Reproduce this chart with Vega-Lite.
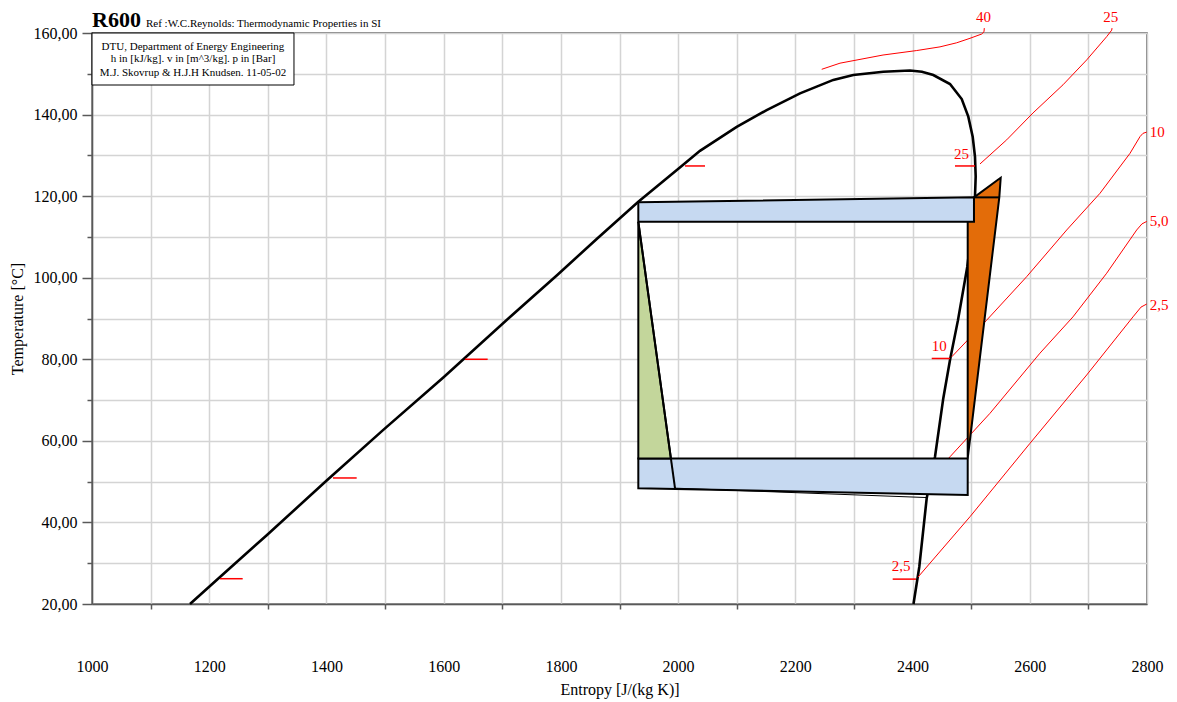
{
  "$schema": "https://vega.github.io/schema/vega-lite/v6.json",
  "width": 1055,
  "height": 571,
  "autosize": "none",
  "padding": {"left": 92, "top": 33, "right": 30, "bottom": 98},
  "background": "white",
  "config": {
    "font": "Liberation Serif",
    "view": {"stroke": "#595959", "strokeWidth": 1.5},
    "axis": {
      "labelFont": "Liberation Serif",
      "labelColor": "black",
      "labelFontSize": 16,
      "labelFlush": false,
      "labelOverlap": false,
      "titleFont": "Liberation Serif",
      "titleFontSize": 16,
      "titleFontWeight": "normal",
      "titleColor": "black",
      "domainColor": "#595959",
      "domainWidth": 1.5,
      "tickColor": "#595959",
      "tickWidth": 1.5,
      "grid": true,
      "gridColor": "#d4d4d4",
      "gridWidth": 1.5
    }
  },
  "datasets": {
    "saturation": [
      {"i": 1, "s": 1167.2, "T": 20.0},
      {"i": 2, "s": 1218.4, "T": 26.6},
      {"i": 3, "s": 1298.1, "T": 36.87},
      {"i": 4, "s": 1400.4, "T": 50.26},
      {"i": 5, "s": 1497.0, "T": 62.7},
      {"i": 6, "s": 1599.4, "T": 75.54},
      {"i": 7, "s": 1713.2, "T": 90.37},
      {"i": 8, "s": 1792.9, "T": 100.54},
      {"i": 9, "s": 1861.1, "T": 109.5},
      {"i": 10, "s": 1932.1, "T": 118.6},
      {"i": 11, "s": 2006.1, "T": 127.4},
      {"i": 12, "s": 2037.3, "T": 131.1},
      {"i": 13, "s": 2100.0, "T": 137.0},
      {"i": 14, "s": 2151.1, "T": 141.1},
      {"i": 15, "s": 2208.0, "T": 145.2},
      {"i": 16, "s": 2264.8, "T": 148.5},
      {"i": 17, "s": 2298.9, "T": 149.7},
      {"i": 18, "s": 2350.1, "T": 150.5},
      {"i": 19, "s": 2395.6, "T": 150.8},
      {"i": 20, "s": 2416.0, "T": 150.5},
      {"i": 21, "s": 2435.4, "T": 149.7},
      {"i": 22, "s": 2463.9, "T": 147.5},
      {"i": 23, "s": 2483.9, "T": 143.8},
      {"i": 24, "s": 2495.1, "T": 139.5},
      {"i": 25, "s": 2502.6, "T": 134.6},
      {"i": 26, "s": 2506.5, "T": 129.7},
      {"i": 27, "s": 2507.7, "T": 124.8},
      {"i": 28, "s": 2506.5, "T": 119.8},
      {"i": 29, "s": 2504.8, "T": 113.9},
      {"i": 30, "s": 2498.9, "T": 109.2},
      {"i": 31, "s": 2493.4, "T": 102.7},
      {"i": 32, "s": 2477.5, "T": 89.6},
      {"i": 33, "s": 2463.9, "T": 79.8},
      {"i": 34, "s": 2452.4, "T": 70.4},
      {"i": 35, "s": 2438.3, "T": 56.1},
      {"i": 36, "s": 2424.1, "T": 45.9},
      {"i": 37, "s": 2411.5, "T": 29.1},
      {"i": 38, "s": 2401.6, "T": 20.0}
    ],
    "isobars": [
      {"p": "40", "i": 1, "s": 2245.0, "T": 151.1},
      {"p": "40", "i": 2, "s": 2276.2, "T": 152.6},
      {"p": "40", "i": 3, "s": 2349.6, "T": 154.6},
      {"p": "40", "i": 4, "s": 2407.1, "T": 155.7},
      {"p": "40", "i": 5, "s": 2446.8, "T": 156.6},
      {"p": "40", "i": 6, "s": 2475.3, "T": 157.6},
      {"p": "40", "i": 7, "s": 2498.0, "T": 158.7},
      {"p": "40", "i": 8, "s": 2518.0, "T": 159.75},
      {"p": "40", "i": 9, "s": 2521.9, "T": 160.3},
      {"p": "40", "i": 10, "s": 2522.4, "T": 161.2},
      {"p": "25", "i": 1, "s": 2515.1, "T": 127.9},
      {"p": "25", "i": 2, "s": 2560.6, "T": 133.8},
      {"p": "25", "i": 3, "s": 2605.5, "T": 140.4},
      {"p": "25", "i": 4, "s": 2656.7, "T": 147.3},
      {"p": "25", "i": 5, "s": 2697.1, "T": 153.4},
      {"p": "25", "i": 6, "s": 2731.2, "T": 159.1},
      {"p": "25", "i": 7, "s": 2739.8, "T": 160.7},
      {"p": "25", "i": 8, "s": 2740.3, "T": 161.2},
      {"p": "10", "i": 1, "s": 2466.8, "T": 80.6},
      {"p": "10", "i": 2, "s": 2526.5, "T": 89.6},
      {"p": "10", "i": 3, "s": 2594.7, "T": 100.25},
      {"p": "10", "i": 4, "s": 2663.0, "T": 111.7},
      {"p": "10", "i": 5, "s": 2719.8, "T": 120.7},
      {"p": "10", "i": 6, "s": 2771.0, "T": 130.5},
      {"p": "10", "i": 7, "s": 2788.1, "T": 134.6},
      {"p": "10", "i": 8, "s": 2793.2, "T": 135.4},
      {"p": "10", "i": 9, "s": 2799.5, "T": 135.7},
      {"p": "5,0", "i": 1, "s": 2431.5, "T": 50.9},
      {"p": "5,0", "i": 2, "s": 2463.9, "T": 56.1},
      {"p": "5,0", "i": 3, "s": 2532.1, "T": 66.75},
      {"p": "5,0", "i": 4, "s": 2617.4, "T": 81.5},
      {"p": "5,0", "i": 5, "s": 2673.7, "T": 90.4},
      {"p": "5,0", "i": 6, "s": 2731.2, "T": 101.1},
      {"p": "5,0", "i": 7, "s": 2782.4, "T": 111.7},
      {"p": "5,0", "i": 8, "s": 2791.4, "T": 113.2},
      {"p": "5,0", "i": 9, "s": 2799.5, "T": 113.8},
      {"p": "2,5", "i": 1, "s": 2409.3, "T": 26.6},
      {"p": "2,5", "i": 2, "s": 2498.0, "T": 41.4},
      {"p": "2,5", "i": 3, "s": 2600.4, "T": 59.4},
      {"p": "2,5", "i": 4, "s": 2697.1, "T": 76.15},
      {"p": "2,5", "i": 5, "s": 2776.1, "T": 90.4},
      {"p": "2,5", "i": 6, "s": 2789.8, "T": 92.8},
      {"p": "2,5", "i": 7, "s": 2799.5, "T": 93.55}
    ],
    "dashes": [
      {"s": 1218.4, "s2": 1257.1, "T": 26.2},
      {"s": 1411.2, "s2": 1451.6, "T": 50.9},
      {"s": 1636.4, "s2": 1675.1, "T": 80.0},
      {"s": 2011.8, "s2": 2045.9, "T": 127.4},
      {"s": 2366.1, "s2": 2405.9, "T": 26.1},
      {"s": 2432.7, "s2": 2463.9, "T": 80.2},
      {"s": 2472.4, "s2": 2506.5, "T": 127.4}
    ],
    "pressureLabels": [
      {"s": 2508.2, "T": 163.85, "t": "40"},
      {"s": 2725.4, "T": 163.85, "t": "25"},
      {"s": 2804.9, "T": 135.7, "t": "10"},
      {"s": 2804.9, "T": 113.9, "t": "5,0"},
      {"s": 2804.9, "T": 93.2, "t": "2,5"},
      {"s": 2470.7, "T": 130.3, "t": "25"},
      {"s": 2432.7, "T": 83.2, "t": "10"},
      {"s": 2364.4, "T": 29.4, "t": "2,5"}
    ],
    "superheat": [
      {"s": 2494.1, "T": 113.7, "T2": 55.7},
      {"s": 2504.8, "T": 119.7, "T2": 68.4},
      {"s": 2548.0, "T": 124.25, "T2": 119.7},
      {"s": 2550.4, "T": 124.5, "T2": 124.5}
    ],
    "exchangers": [
      {"part": "evaporator", "s": 1932.1, "T": 118.5, "T2": 113.7},
      {"part": "evaporator", "s": 2504.8, "T": 119.7, "T2": 113.7},
      {"part": "condenser", "s": 1932.1, "T": 55.7, "T2": 48.4},
      {"part": "condenser", "s": 2494.1, "T": 55.7, "T2": 46.7}
    ],
    "preheat": [
      {"s": 1932.1, "T": 113.7, "T2": 55.7},
      {"s": 1987.7, "T": 55.7, "T2": 55.7}
    ],
    "cycleLines": [
      {"id": "a", "i": 1, "s": 1932.1, "T": 113.7},
      {"id": "a", "i": 2, "s": 1994.7, "T": 48.4},
      {"id": "b", "i": 1, "s": 2504.8, "T": 119.7},
      {"id": "b", "i": 2, "s": 2548.0, "T": 119.7}
    ],
    "dewLine": [
      {"i": 1, "s": 1994.7, "T": 48.4},
      {"i": 2, "s": 2424.1, "T": 46.1}
    ],
    "infoBox": [
      {"s": 1000, "s2": 1344.6, "T": 160, "T2": 147.25}
    ],
    "infoText": [
      {"s": 1172.3, "T": 155.95, "t": "DTU, Department of Energy Engineering"},
      {"s": 1172.3, "T": 152.77, "t": "h in [kJ/kg]. v in [m^3/kg]. p in [Bar]"},
      {"s": 1172.3, "T": 149.46, "t": "M.J. Skovrup & H.J.H Knudsen. 11-05-02"}
    ],
    "heading": [
      {"s": 1000, "T": 161.55, "t": "R600"}
    ],
    "reference": [
      {"s": 1092.1, "T": 161.55, "t": "Ref :W.C.Reynolds: Thermodynamic Properties in SI"}
    ]
  },
  "encoding": {
    "x": {
      "field": "s",
      "type": "quantitative",
      "scale": {"domain": [1000, 2800], "nice": false, "zero": false},
      "axis": {
        "title": "Entropy [J/(kg K)]",
        "values": [1000, 1100, 1200, 1300, 1400, 1500, 1600, 1700, 1800, 1900, 2000, 2100, 2200, 2300, 2400, 2500, 2600, 2700, 2800],
        "format": "d",
        "labelExpr": "datum.value % 200 == 0 ? datum.label : ''",
        "tickSize": 5,
        "tickOpacity": {"condition": {"test": "datum.value % 200 == 0", "value": 0}, "value": 1},
        "labelPadding": 49,
        "titlePadding": 7
      }
    },
    "y": {
      "field": "T",
      "type": "quantitative",
      "scale": {"domain": [20, 160], "nice": false, "zero": false},
      "axis": {
        "title": "Temperature [°C]",
        "values": [20, 30, 40, 50, 60, 70, 80, 90, 100, 110, 120, 130, 140, 150, 160],
        "labelExpr": "datum.value % 20 == 0 ? replace(format(datum.value, '.2f'), '.', ',') : ''",
        "tickSize": 10,
        "tickDash": {"condition": {"test": "datum.value % 20 != 0", "value": [5, 5]}, "value": []},
        "labelPadding": 5,
        "titlePadding": 8
      }
    }
  },
  "layer": [
    {
      "data": {"name": "saturation"},
      "mark": {"type": "line", "color": "black", "strokeWidth": 2.6},
      "encoding": {"order": {"field": "i", "type": "quantitative"}}
    },
    {
      "data": {"name": "isobars"},
      "mark": {"type": "line", "color": "#ff0000", "strokeWidth": 1},
      "encoding": {
        "detail": {"field": "p", "type": "nominal"},
        "order": {"field": "i", "type": "quantitative"}
      }
    },
    {
      "data": {"name": "dashes"},
      "mark": {"type": "rule", "color": "#ff0000", "strokeWidth": 1.5},
      "encoding": {"x2": {"field": "s2"}}
    },
    {
      "data": {"name": "pressureLabels"},
      "mark": {"type": "text", "color": "#ff0000", "font": "Liberation Serif", "fontSize": 15, "align": "left", "baseline": "middle"},
      "encoding": {"text": {"field": "t", "type": "nominal"}}
    },
    {
      "data": {"name": "superheat"},
      "mark": {"type": "area", "fill": "#E36C09", "stroke": "black", "strokeWidth": 2, "opacity": 1},
      "encoding": {"y2": {"field": "T2"}}
    },
    {
      "data": {"name": "exchangers"},
      "mark": {"type": "area", "fill": "#C6D9F1", "stroke": "black", "strokeWidth": 2, "opacity": 1},
      "encoding": {"y2": {"field": "T2"}, "detail": {"field": "part", "type": "nominal"}}
    },
    {
      "data": {"name": "preheat"},
      "mark": {"type": "area", "fill": "#C3D69B", "stroke": "black", "strokeWidth": 2, "opacity": 1},
      "encoding": {"y2": {"field": "T2"}}
    },
    {
      "data": {"name": "cycleLines"},
      "mark": {"type": "line", "color": "black", "strokeWidth": 2},
      "encoding": {
        "detail": {"field": "id", "type": "nominal"},
        "order": {"field": "i", "type": "quantitative"}
      }
    },
    {
      "data": {"name": "dewLine"},
      "mark": {"type": "line", "color": "black", "strokeWidth": 1},
      "encoding": {"order": {"field": "i", "type": "quantitative"}}
    },
    {
      "data": {"name": "infoBox"},
      "mark": {"type": "rect", "fill": "white", "stroke": "black", "strokeWidth": 1},
      "encoding": {"x2": {"field": "s2"}, "y2": {"field": "T2"}}
    },
    {
      "data": {"name": "infoText"},
      "mark": {"type": "text", "color": "black", "font": "Liberation Serif", "fontSize": 11, "align": "center", "baseline": "alphabetic"},
      "encoding": {"text": {"field": "t", "type": "nominal"}}
    },
    {
      "data": {"name": "heading"},
      "mark": {"type": "text", "color": "black", "font": "Liberation Serif", "fontSize": 22, "fontWeight": "bold", "align": "left", "baseline": "alphabetic"},
      "encoding": {"text": {"field": "t", "type": "nominal"}}
    },
    {
      "data": {"name": "reference"},
      "mark": {"type": "text", "color": "black", "font": "Liberation Serif", "fontSize": 11, "align": "left", "baseline": "alphabetic"},
      "encoding": {"text": {"field": "t", "type": "nominal"}}
    }
  ]
}
